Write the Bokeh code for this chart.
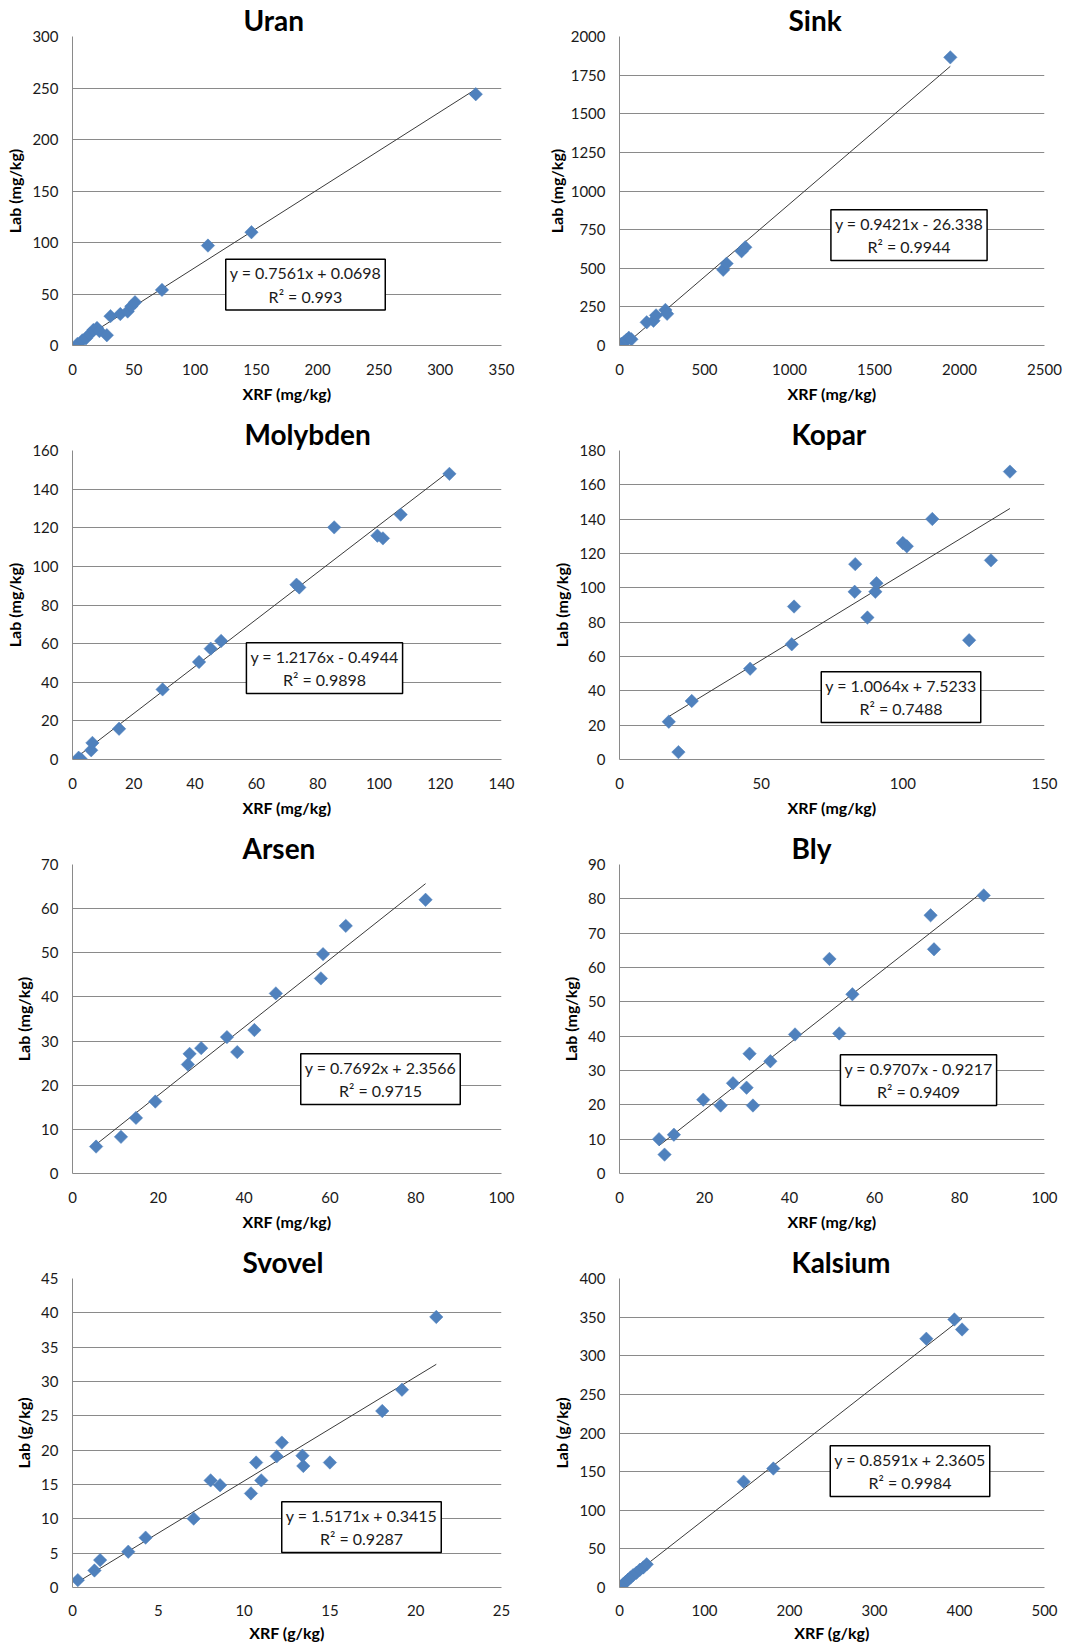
import numpy as np
from bokeh.plotting import figure
from bokeh.layouts import gridplot
from bokeh.models import Range1d, FixedTicker, Label, Title
from bokeh.embed import file_html
from bokeh.resources import INLINE

# ---------------- data ----------------
titles = ["Uran", "Sink", "Molybden", "Kopar", "Arsen", "Bly", "Svovel", "Kalsium"]

uran_x = [4, 8, 11, 14, 17, 20, 22, 28, 31, 39, 45, 48, 51, 73, 110.5, 146, 329]
uran_y = [1.5, 5, 7, 11, 15, 17, 14, 10, 28.5, 30.5, 33, 38, 42, 54, 97, 110, 244]

sink_x = [10, 25, 40, 55, 70, 160, 200, 215, 270, 280, 610, 630, 718, 740, 1946]
sink_y = [10, 20, 35, 50, 40, 150, 160, 195, 230, 205, 490, 530, 610, 636, 1865]

molybden_x = [2, 2.8, 6.1, 6.5, 15.2, 29.4, 41.3, 45.1, 48.5, 73.1, 74.0, 85.4, 99.5, 101.3, 107.1, 123]
molybden_y = [0.9, 0.1, 4.8, 8.6, 15.9, 36.3, 50.5, 57.4, 61.4, 90.5, 89.1, 120.2, 115.9, 114.5, 126.8, 147.9]

kopar_x = [17.4, 20.8, 25.5, 46.1, 60.8, 61.6, 83.0, 83.2, 87.5, 90.3, 90.7, 100.0, 101.4, 110.4, 123.4, 131.1, 137.8]
kopar_y = [22.0, 4.3, 34.1, 52.9, 67.1, 89.1, 97.7, 113.8, 82.7, 97.7, 102.7, 126.1, 124.2, 140.1, 69.5, 116.0, 167.7]

arsen_x = [5.5, 11.3, 14.8, 19.3, 26.9, 27.3, 30.0, 36.0, 38.4, 42.4, 47.4, 57.9, 58.4, 63.7, 82.3]
arsen_y = [6.1, 8.3, 12.6, 16.3, 24.7, 27.1, 28.4, 30.9, 27.5, 32.5, 40.8, 44.2, 49.7, 56.1, 62.0]

bly_x = [9.3, 10.6, 12.8, 19.7, 23.8, 26.7, 29.9, 30.6, 31.4, 35.5, 41.3, 49.4, 51.7, 54.8, 73.2, 74.0, 85.7]
bly_y = [10.0, 5.5, 11.3, 21.5, 19.8, 26.3, 25.0, 34.9, 19.8, 32.7, 40.5, 62.5, 40.8, 52.2, 75.2, 65.3, 81.0]

svovel_x = [0.31, 1.28, 1.61, 3.25, 4.26, 7.06, 8.05, 8.6, 10.4, 10.7, 11.0, 11.9, 12.2, 13.4, 13.45, 15.0, 18.05, 19.2, 21.2]
svovel_y = [1.07, 2.48, 3.99, 5.21, 7.26, 10.03, 15.6, 14.9, 13.7, 18.2, 15.6, 19.1, 21.1, 19.2, 17.7, 18.2, 25.7, 28.8, 39.4]

kalsium_x = [4, 7, 10, 13, 16, 20, 24, 28, 32, 146, 181, 361, 394, 403]
kalsium_y = [4, 7, 10, 13, 16, 19, 23, 26, 30, 137, 154, 322, 347, 334]

xs = [uran_x, sink_x, molybden_x, kopar_x, arsen_x, bly_x, svovel_x, kalsium_x]
ys = [uran_y, sink_y, molybden_y, kopar_y, arsen_y, bly_y, svovel_y, kalsium_y]

slopes = [0.7561, 0.9421, 1.2176, 1.0064, 0.7692, 0.9707, 1.5171, 0.8591]
intercepts = [0.0698, -26.338, -0.4944, 7.5233, 2.3566, -0.9217, 0.3415, 2.3605]
r2_texts = ["0.993", "0.9944", "0.9898", "0.7488", "0.9715", "0.9409", "0.9287", "0.9984"]

x_ticks = [
    [0, 50, 100, 150, 200, 250, 300, 350],
    [0, 500, 1000, 1500, 2000, 2500],
    [0, 20, 40, 60, 80, 100, 120, 140],
    [0, 50, 100, 150],
    [0, 20, 40, 60, 80, 100],
    [0, 20, 40, 60, 80, 100],
    [0, 5, 10, 15, 20, 25],
    [0, 100, 200, 300, 400, 500],
]
y_ticks = [
    [0, 50, 100, 150, 200, 250, 300],
    [0, 250, 500, 750, 1000, 1250, 1500, 1750, 2000],
    [0, 20, 40, 60, 80, 100, 120, 140, 160],
    [0, 20, 40, 60, 80, 100, 120, 140, 160, 180],
    [0, 10, 20, 30, 40, 50, 60, 70],
    [0, 10, 20, 30, 40, 50, 60, 70, 80, 90],
    [0, 5, 10, 15, 20, 25, 30, 35, 40, 45],
    [0, 50, 100, 150, 200, 250, 300, 350, 400],
]
x_labels = ["XRF (mg/kg)"] * 6 + ["XRF (g/kg)"] * 2
y_labels = ["Lab (mg/kg)"] * 6 + ["Lab (g/kg)"] * 2

# ---------------- layout / style ----------------
FONT = "Lato"
MARKER = "#4F81BD"
GRID = "#8A8A8A"
widths = [543] * 8
heights = [414, 414, 414, 414, 414, 414, 403, 403]
border_left = [72, 69, 71, 73, 71, 73, 71, 73]
border_right = [40, 42, 42, 38, 42, 38, 42, 38]
border_top = 36
border_bottom = [69, 69, 69, 69, 69, 69, 58, 58]
xlab_standoff = [18, 18, 18, 18, 18, 18, 17, 17]
xtitle_standoff = [6, 6, 6, 6, 6, 6, 4, 4]
ytitle_standoff = [5, 2, 5, 5, 5, 5, 5, 5]
title_left = [171, 169, 172, 172, 170, 172, 170, 172]
box_pos = [(233, 61), (289.5, 110.5), (252, 91.5), (281.5, 62.5),
           (308, 94.5), (299, 93.5), (289, 60.5), (290.5, 116.5)]


def make_panel(i):
    p = figure(width=widths[i], height=heights[i], output_backend="svg",
               toolbar_location=None,
               x_range=Range1d(0, x_ticks[i][-1]), y_range=Range1d(0, y_ticks[i][-1]),
               min_border_left=border_left[i], min_border_right=border_right[i],
               min_border_top=border_top, min_border_bottom=border_bottom[i])
    p.title = Title(text=titles[i], align="left", offset=title_left[i], standoff=0,
                    text_font=FONT, text_font_size="28px", text_font_style="bold",
                    text_color="black", text_baseline="bottom")
    p.outline_line_color = None
    p.background_fill_color = "white"
    p.border_fill_color = "white"
    p.xgrid.grid_line_color = None
    p.ygrid.grid_line_color = GRID
    p.ygrid.grid_line_width = 1

    p.xaxis.ticker = FixedTicker(ticks=x_ticks[i])
    p.yaxis.ticker = FixedTicker(ticks=y_ticks[i])
    for ax in (p.xaxis, p.yaxis):
        ax.axis_line_color = GRID
        ax.major_tick_line_color = None
        ax.minor_tick_line_color = None
        ax.major_tick_out = 0
        ax.major_tick_in = 0
        ax.minor_tick_out = 0
        ax.major_label_text_font = FONT
        ax.major_label_text_font_size = "15px"
        ax.major_label_text_color = "#1a1a1a"
        ax.axis_label_text_font = FONT
        ax.axis_label_text_font_size = "16px"
        ax.axis_label_text_font_style = "bold"
        ax.axis_label_text_color = "black"
    p.xaxis.axis_label = x_labels[i]
    p.yaxis.axis_label = y_labels[i]
    p.xaxis.major_label_standoff = xlab_standoff[i]
    p.xaxis.axis_label_standoff = xtitle_standoff[i]
    p.yaxis.major_label_standoff = 14
    p.yaxis.axis_label_standoff = ytitle_standoff[i]

    # trend line from the displayed regression equation
    x = np.array(xs[i], dtype=float)
    lx = np.array([x.min(), x.max()])
    ly = slopes[i] * lx + intercepts[i]
    p.line(lx, ly, line_color="#3a3a3a", line_width=1)

    p.scatter(xs[i], ys[i], marker="square", angle=np.pi / 4, size=9.5,
              fill_color=MARKER, line_color=MARKER, line_width=0.5)

    # equation box
    b = intercepts[i]
    eq = f"y = {slopes[i]}x {'+' if b >= 0 else '-'} {abs(b)}"
    txt = eq + "\nR\u00b2 = " + r2_texts[i]
    bx, by = box_pos[i]
    p.add_layout(Label(x=bx, y=by, x_units="screen", y_units="screen",
                       text=txt, text_font=FONT, text_font_size="16px",
                       text_align="center", text_baseline="middle",
                       text_color="#1a1a1a", text_line_height=1.25,
                       background_fill_color="white", border_line_color="black",
                       border_line_width=1.5, padding=4))
    return p


panels = [make_panel(i) for i in range(8)]
grid = gridplot([[panels[0], panels[1]], [panels[2], panels[3]],
                 [panels[4], panels[5]], [panels[6], panels[7]]],
                toolbar_location=None)

open("out.html", "w").write(file_html(grid, INLINE))
